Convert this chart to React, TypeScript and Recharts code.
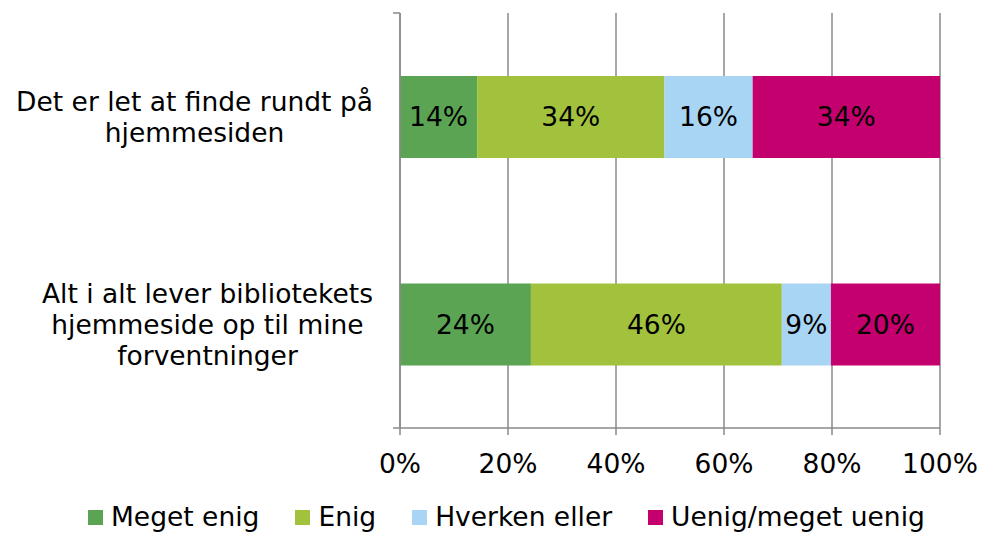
import { BarChart, Bar, XAxis, YAxis, CartesianGrid, LabelList } from "recharts";

const categories = [
  "Det er let at finde rundt på hjemmesiden",
  "Alt i alt lever bibliotekets hjemmeside op til mine forventninger",
];
// the way the long labels wrap in the original
const categoryLines = [
  ["Det er let at finde rundt på", "hjemmesiden"],
  ["Alt i alt lever bibliotekets", "hjemmeside op til mine", "forventninger"],
];

const seriesNames = ["Meget enig", "Enig", "Hverken eller", "Uenig/meget uenig"];
const seriesColors = ["#5ba453", "#a2c23d", "#a9d5f5", "#c4006f"];

const megetEnig = [14, 24];
const enig = [34, 46];
const hverken = [16, 9];
const uenig = [34, 20];

const xTicks = [0, 0.2, 0.4, 0.6, 0.8, 1];
const bandTicks = [0, 1, 2];

const FONT = '"DejaVu Sans", Verdana, sans-serif';
const FS = 26.5;
const AXIS = "#8a8a8a";

const data = categories.map((name, i) => ({
  name,
  s0: megetEnig[i],
  s1: enig[i],
  s2: hverken[i],
  s3: uenig[i],
}));

let ctx: CanvasRenderingContext2D | null = null;
function textWidth(s: string) {
  if (!ctx) {
    ctx = document.createElement("canvas").getContext("2d");
    if (ctx) ctx.font = `${FS}px ${FONT}`;
  }
  return ctx ? ctx.measureText(s).width : s.length * FS * 0.55;
}

function CategoryTick(props: any) {
  const { x, y, payload } = props;
  const idx = categories.indexOf(payload.value);
  const lines = categoryLines[idx] || [payload.value];
  const maxW = Math.max(...lines.map(textWidth));
  const cx = x - maxW / 2;
  const n = lines.length;
  return (
    <g>
      {lines.map((l, i) => (
        <text
          key={i}
          x={cx}
          y={y + (i - (n - 1) / 2) * 31 + 10}
          textAnchor="middle"
          fontSize={FS}
          fontFamily={FONT}
          fill="#000"
        >
          {l}
        </text>
      ))}
    </g>
  );
}

const NoLabel = () => <g />;

export default function App() {
  const keys = ["s0", "s1", "s2", "s3"];
  return (
    <div style={{ position: "absolute", left: 0, top: 0, width: 984, height: 533, background: "#fff" }}>
      <BarChart
        width={984}
        height={533}
        data={data}
        layout="vertical"
        stackOffset="expand"
        margin={{ top: 13, right: 44, left: 0, bottom: 45 }}
      >
        <CartesianGrid horizontal={false} stroke={AXIS} strokeWidth={1.5} />
        <XAxis
          type="number"
          domain={[0, 1]}
          ticks={xTicks}
          tickFormatter={(v: number) => `${Math.round(v * 100)}%`}
          height={60}
          tickSize={7}
          tickMargin={19}
          axisLine={{ stroke: AXIS, strokeWidth: 1.5 }}
          tickLine={{ stroke: AXIS, strokeWidth: 1.5 }}
          tick={{ fontSize: FS, fontFamily: FONT, fill: "#000" }}
          interval={0}
        />
        <YAxis
          yAxisId="bands"
          type="number"
          domain={[0, 2]}
          ticks={bandTicks}
          allowDataOverflow
          interval={0}
          width={1}
          tick={<NoLabel />}
          tickSize={7}
          axisLine={{ stroke: AXIS, strokeWidth: 1.5 }}
          tickLine={{ stroke: AXIS, strokeWidth: 1.5 }}
        />
        <YAxis
          yAxisId="cat"
          type="category"
          dataKey="name"
          width={399}
          axisLine={false}
          tickLine={false}
          tickSize={0}
          tickMargin={26}
          tick={<CategoryTick />}
          interval={0}
        />
        {keys.map((k, i) => (
          <Bar
            key={k}
            dataKey={k}
            name={seriesNames[i]}
            stackId="a"
            yAxisId="cat"
            fill={seriesColors[i]}
            barSize={82}
            isAnimationActive={false}
          >
            <LabelList
              dataKey={k}
              position="center"
              formatter={(v: any) => `${v}%`}
              fill="#000"
              fontSize={FS}
              fontFamily={FONT}
            />
          </Bar>
        ))}
      </BarChart>
      <div
        style={{
          position: "absolute",
          left: 88,
          top: 502,
          display: "flex",
          alignItems: "center",
          fontFamily: FONT,
          fontSize: FS,
          lineHeight: "30px",
          color: "#000",
          whiteSpace: "nowrap",
        }}
      >
        {seriesNames.map((n, i) => (
          <div key={n} style={{ display: "flex", alignItems: "center", marginRight: 36 }}>
            <span style={{ width: 15, height: 15, background: seriesColors[i], marginRight: 8, display: "inline-block" }} />
            <span>{n}</span>
          </div>
        ))}
      </div>
    </div>
  );
}
